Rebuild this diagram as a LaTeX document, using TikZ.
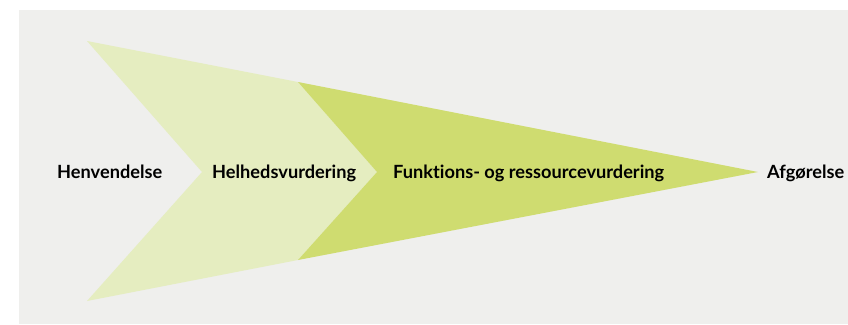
\documentclass[tikz,border=0pt]{standalone}
\usepackage{fontspec}
\setmainfont{Lato}[Ligatures={NoCommon}]
\definecolor{bgray}{RGB}{239,239,237}
\definecolor{lightgreen}{RGB}{229,237,192}
\definecolor{darkgreen}{RGB}{207,220,112}
\tikzset{
  lbl/.style={font=\bfseries\fontsize{18.2}{21}\selectfont, text=black, inner sep=0pt, anchor=base west},
}
\begin{document}
\begin{tikzpicture}[x=1pt,y=-1pt]
\useasboundingbox (0,0) rectangle (848,324);
\fill[white] (0,0) rectangle (848,324);
\fill[bgray] (19,10) rectangle (848,324);
\fill[lightgreen] (87,41) -- (298,82) -- (377,172) -- (298,260) -- (87,301) -- (202,172) -- cycle;
\fill[darkgreen] (298,82) -- (758,172) -- (298,260) -- (377,172) -- cycle;
\node[lbl] (henv) at (57,178.5) {Henvendelse};
\node[lbl] (helh) at (212,178.5) {Helhedsvurdering};
\node[lbl] (funk) at (393,178.5) {Funktions- og ressourcevurdering};
\node[lbl] (afg) at (767,178.5) {Afgørelse};
\end{tikzpicture}
\end{document}
